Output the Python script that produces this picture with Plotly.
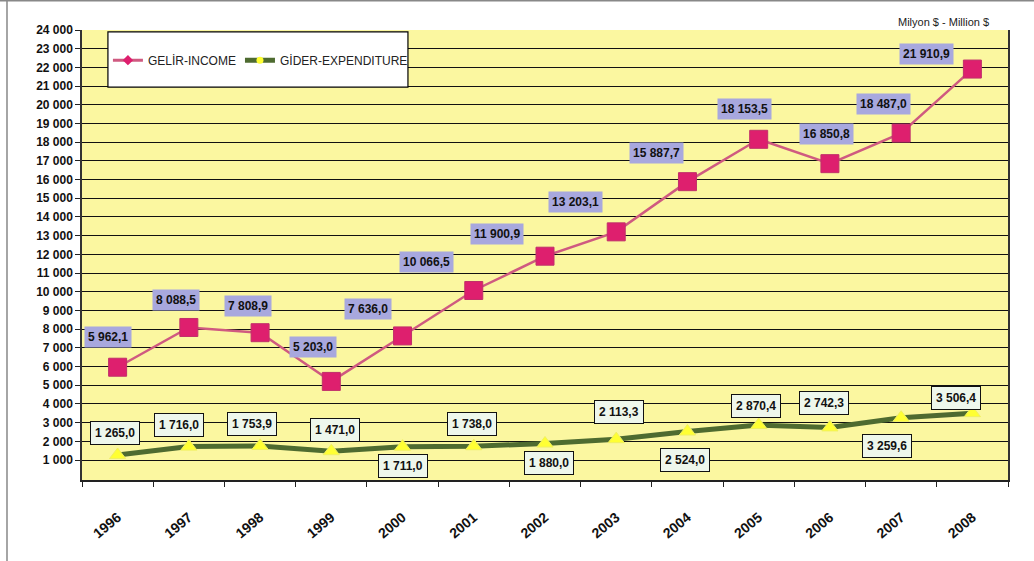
import plotly.graph_objects as go

years = [1996, 1997, 1998, 1999, 2000, 2001, 2002,
         2003, 2004, 2005, 2006, 2007, 2008]
year_labels = ["1996", "1997", "1998", "1999", "2000", "2001", "2002",
               "2003", "2004", "2005", "2006", "2007", "2008"]
income = [5962.1, 8088.5, 7808.9, 5203.0, 7636.0, 10066.5, 11900.9,
          13203.1, 15887.7, 18153.5, 16850.8, 18487.0, 21910.9]
expenditure = [1265.0, 1716.0, 1753.9, 1471.0, 1711.0, 1738.0, 1880.0,
               2113.3, 2524.0, 2870.4, 2742.3, 3259.6, 3506.4]
y_ticks = list(range(1000, 25000, 1000))

# label offsets in screen pixels (dx, dy down)
income_off = [(-10, -30), (-13, -27), (-12, -27), (-18, -34), (-35, -27), (-47, -28),
              (-48, -22), (-41, -30), (-31, -29), (-14, -30), (-3, -30), (-18, -29), (-46, -15)]
exp_off = [(-3, -22), (-10, -22), (-8, -22), (4, -21), (0, 19), (-2, -22), (4, 19),
           (3, -27), (-2, 28), (-3, -19), (-6, -24), (-14, 28), (-16, -15)]

FONT = "Liberation Sans, Arial, sans-serif"
INC_LINE, INC_MARK = "#CF5A80", "#DE1F6E"
EXP_LINE, EXP_MARK = "#4E6B30", "#FFFF33"


def fmt(v):
    return f"{v:,.1f}".replace(",", " ").replace(".", ",")


fig = go.Figure()
fig.add_trace(go.Scatter(
    x=years, y=income, name="GELİR-INCOME", mode="lines+markers", showlegend=False,
    line=dict(color=INC_LINE, width=2.5),
    marker=dict(symbol="square", size=18, color=INC_MARK,
                line=dict(color="#C0306A", width=1)),
))
fig.add_trace(go.Scatter(
    x=years, y=expenditure, name="GİDER-EXPENDITURE", mode="lines+markers", showlegend=False,
    line=dict(color=EXP_LINE, width=5),
    marker=dict(symbol="triangle-up", size=14, color=EXP_MARK,
                line=dict(color="#F0F060", width=1)),
))
# legend-only entries with small symbols
fig.add_trace(go.Scatter(
    x=[None], y=[None], name="GELİR-INCOME", mode="lines+markers", legend="legend",
    line=dict(color=INC_LINE, width=3),
    marker=dict(symbol="diamond", size=8, color=INC_MARK),
))
fig.add_trace(go.Scatter(
    x=[None], y=[None], name="GİDER-EXPENDITURE", mode="lines+markers", legend="legend2",
    line=dict(color=EXP_LINE, width=5),
    marker=dict(symbol="circle", size=7, color=EXP_MARK),
))

annotations = []
for yr, v, (dx, dy) in zip(years, income, income_off):
    annotations.append(dict(
        x=yr, y=v, text=fmt(v), showarrow=False, xshift=dx, yshift=-dy,
        font=dict(family=FONT, size=12, color="#111", weight="bold"),
        bgcolor="#A8A8DE", borderpad=3,
    ))
for yr, v, (dx, dy) in zip(years, expenditure, exp_off):
    annotations.append(dict(
        x=yr, y=v, text=fmt(v), showarrow=False, xshift=dx, yshift=-dy,
        font=dict(family=FONT, size=12, color="#111", weight="bold"),
        bgcolor="#EEF7EC", bordercolor="#111", borderwidth=1, borderpad=4,
    ))
annotations.append(dict(
    xref="paper", yref="paper", x=0.930, y=1.035, xanchor="center",
    text="Milyon $ - Million $",
    showarrow=False, font=dict(family=FONT, size=11, color="#222"),
))

shapes = [
    # legend box
    dict(type="rect", xref="paper", yref="paper", x0=0.028, x1=0.352, y0=0.873, y1=0.996,
         fillcolor="white", line=dict(color="black", width=1.2), layer="above"),
    # page frame
    dict(type="line", xref="paper", yref="paper", x0=-0.09, x1=1.03, y0=1.065, y1=1.065,
         line=dict(color="#888", width=1.5)),
    dict(type="line", xref="paper", yref="paper", x0=-0.081, x1=-0.081, y0=1.065, y1=-0.18,
         line=dict(color="#888", width=1.5)),
]

legend_common = dict(orientation="h", y=0.933, xanchor="left", yanchor="middle",
                     bgcolor="rgba(0,0,0,0)", font=dict(family=FONT, size=12, color="#222"),
                     itemwidth=30)

fig.update_layout(
    width=1034, height=561,
    margin=dict(l=82, r=26, t=30, b=81),
    paper_bgcolor="white", plot_bgcolor="#FBF7A0",
    separators=", ",
    font=dict(family=FONT, color="#111"),
    showlegend=True,
    legend=dict(x=0.028, **legend_common),
    legend2=dict(x=0.1706, **legend_common),
    annotations=annotations, shapes=shapes,
)
fig.update_xaxes(
    range=[years[0] - 0.5, years[-1] + 0.5], tickvals=years, ticktext=year_labels,
    ticks="", showline=True, linecolor="#222", linewidth=1.5,
    showgrid=False, zeroline=False, tickangle=-40, ticklabelstandoff=22,
    minor=dict(tick0=years[0] - 0.5, dtick=1, ticks="outside", ticklen=5,
               tickcolor="#222", showgrid=False),
    tickfont=dict(family=FONT, size=14, color="#111", weight="bold"),
)
fig.update_yaxes(
    range=[-70, 24000], tickvals=y_ticks, tickformat=",d", ticks="outside", ticklen=5,
    tickcolor="#222", showline=True, linecolor="#333", linewidth=1.5, mirror=True,
    showgrid=True, gridcolor="#111", gridwidth=1, zeroline=False,
    tickfont=dict(family=FONT, size=12, color="#111", weight="bold"),
)

fig.write_html("out.html")
